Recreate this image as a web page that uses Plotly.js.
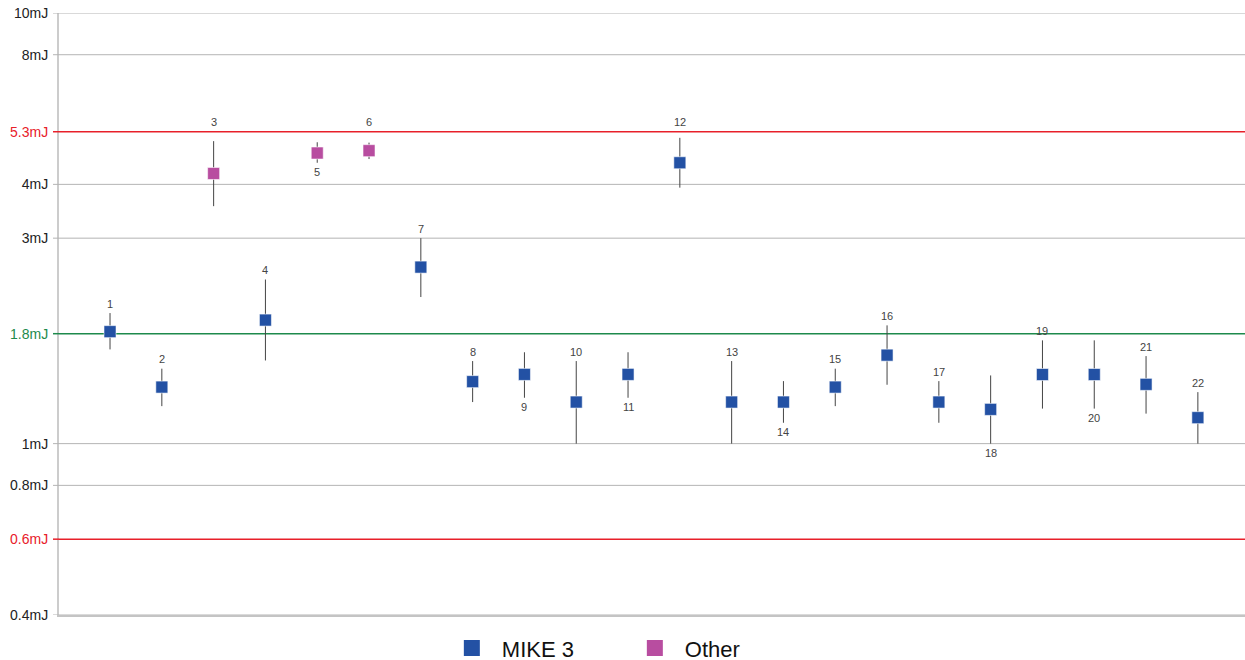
<!DOCTYPE html>
<html>
<head>
<meta charset="utf-8">
<script src="https://cdn.plot.ly/plotly-3.0.1.min.js"></script>
<style>
html,body{margin:0;padding:0;background:#fff;}
#chart{width:1245px;height:660px;}
</style>
</head>
<body>
<div id="chart"></div>
<script>
// ---- data ----
const ids = [1,2,3,4,5,6,7,8,9,10,11,12,13,14,15,16,17,18,19,20,21,22];
const values = [1.82,1.353,4.24,1.936,4.73,4.79,2.57,1.393,1.448,1.249,1.448,4.49,1.249,1.249,1.353,1.605,1.249,1.201,1.447,1.447,1.373,1.149];
const highs = [2.01,1.493,5.04,2.405,5.01,5.0,3.0,1.555,1.63,1.555,1.63,5.13,1.555,1.397,1.493,1.882,1.397,1.44,1.737,1.737,1.597,1.317];
const lows = [1.655,1.222,3.56,1.56,4.49,4.58,2.19,1.249,1.278,1.0,1.278,3.93,1.0,1.118,1.222,1.37,1.118,1.0,1.206,1.206,1.174,1.0];
const groups = ["MIKE 3","MIKE 3","Other","MIKE 3","Other","Other","MIKE 3","MIKE 3","MIKE 3","MIKE 3","MIKE 3","MIKE 3","MIKE 3","MIKE 3","MIKE 3","MIKE 3","MIKE 3","MIKE 3","MIKE 3","MIKE 3","MIKE 3","MIKE 3"];
const labelSide = ["above","above","above","above","below","above","above","above","below","above","below","above","above","below","above","above","above","below","above","below","above","above"];
const tickVals = [0.4,0.6,0.8,1,1.8,3,4,5.3,8,10];
const tickLabels = ["0.4mJ","0.6mJ","0.8mJ","1mJ","1.8mJ","3mJ","4mJ","5.3mJ","8mJ","10mJ"];
const upperLimit = 5.3;
const target = 1.8;
const lowerLimit = 0.6;

const seriesNames = ["MIKE 3","Other"];
const seriesColors = {"MIKE 3":"#2351a4","Other":"#b84da0"};

const xRange = [0.015, 22.91];
const yMin = 0.4, yMax = 10;

// ---- traces ----
const traces = [];
seriesNames.forEach(name => {
  const idx = ids.map((_, i) => i).filter(i => groups[i] === name);
  traces.push({
    type: "scatter", mode: "markers", showlegend: false, name: name,
    x: idx.map(i => ids[i]),
    y: idx.map(i => values[i]),
    marker: {symbol: "square", size: 12, color: seriesColors[name], line: {width: 1, color: "rgba(255,255,255,0.55)"}},
    error_y: {type: "data", symmetric: false,
      array: idx.map(i => highs[i] - values[i]),
      arrayminus: idx.map(i => values[i] - lows[i]),
      color: "#444", thickness: 1, width: 0},
    hoverinfo: "x+y"
  });
});
// legend-only entries (larger symbols)
seriesNames.forEach(name => {
  traces.push({type: "scatter", mode: "markers", name: name, x: [null], y: [null],
    marker: {symbol: "square", size: 16, color: seriesColors[name]}, hoverinfo: "skip"});
});

// ---- labels ----
const annotations = ids.map((id, i) => {
  let anchor;
  if (labelSide[i] === "above") {
    anchor = (highs[i] > 4.6 && highs[i] < upperLimit) ? upperLimit : highs[i];
  } else {
    anchor = lows[i];
  }
  return {x: id, y: Math.log10(anchor), xref: "x", yref: "y", text: String(id), showarrow: false,
    yanchor: "middle", yshift: labelSide[i] === "above" ? 9.5 : -9.5,
    font: {size: 11, color: "#444", family: "Liberation Sans, Arial, sans-serif"}};
});

// ---- grid & limit lines ----
const limitColors = {};
limitColors[upperLimit] = "#e8202a";
limitColors[target] = "#1e8a4c";
limitColors[lowerLimit] = "#e8202a";

const shapes = [];
tickVals.forEach(v => {
  const c = limitColors[v];
  shapes.push({type: "line", xref: "x", yref: "y", x0: xRange[0], x1: xRange[1], y0: v, y1: v,
    line: {color: c || "#b4b4b4", width: c ? 1.5 : 1}, layer: "below"});
  shapes.push({type: "line", xref: "paper", yref: "y", x0: -6/1186, x1: 0, y0: v, y1: v,
    line: {color: c || "#b4b4b4", width: c ? 1.5 : 1}, layer: "above"});
});

const tickColors = {"5.3mJ":"#e8202a","0.6mJ":"#e8202a","1.8mJ":"#1e8a4c"};
const tickText = tickLabels.map(t => tickColors[t] ? `<span style="color:${tickColors[t]}">${t}</span>` : t);

const layout = {
  width: 1245, height: 660,
  margin: {l: 59, r: 0, t: 13, b: 45, pad: 0, autoexpand: false},
  paper_bgcolor: "#fff", plot_bgcolor: "#fff",
  font: {family: "Liberation Sans, Arial, sans-serif", color: "#222"},
  xaxis: {range: xRange, showgrid: false, zeroline: false, showticklabels: false, ticks: "",
    showline: true, linecolor: "#c4c4c4", linewidth: 2, fixedrange: true},
  yaxis: {type: "log", range: [Math.log10(yMin), Math.log10(yMax)], tickmode: "array", tickvals: tickVals, ticktext: tickText,
    showgrid: false, ticks: "outside", ticklen: 6, tickcolor: "rgba(0,0,0,0)",
    showline: true, linecolor: "#cccccc", linewidth: 2, zeroline: false,
    tickfont: {size: 14, color: "#222"}, fixedrange: true},
  showlegend: true,
  legend: {orientation: "h", x: 0.3228, xanchor: "left", y: -0.055, yanchor: "middle",
    font: {size: 22, color: "#111"}, entrywidth: 118, entrywidthmode: "pixels", itemwidth: 50,
    bgcolor: "rgba(0,0,0,0)"},
  annotations: annotations,
  shapes: shapes
};

Plotly.newPlot("chart", traces, layout, {displayModeBar: false, staticPlot: true});
</script>
</body>
</html>
